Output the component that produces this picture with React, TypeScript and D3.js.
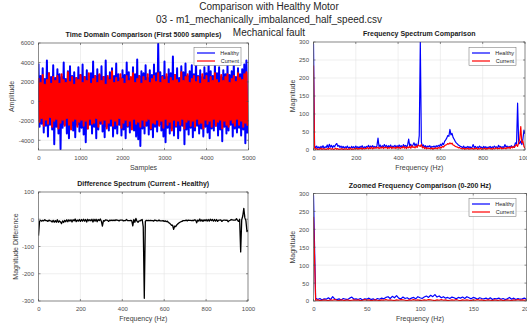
import React, { useEffect, useRef } from 'react';
import * as d3 from 'd3';

const FONT = '"Liberation Sans", Arial, Helvetica, sans-serif';

// time domain: one max / min pair per 50 samples (envelope)
const sampleStep = 50;
const healthyHigh = [
  3900, 2600, 3400, 2300, 4200, 2900, 2500, 3700, 2400, 3300,
  2800, 2500, 4000, 2300, 3100, 3600, 2600, 3000, 2400, 3500,
  2700, 3800, 2500, 3200, 2300, 2900, 4100, 2600, 3300, 2700,
  3600, 2500, 4200, 2400, 3000, 3400, 2600, 3900, 2800, 2400,
  3200, 2700, 4000, 3000, 2400, 3500, 2800, 4300, 2600, 3100,
  2900, 3700, 2400, 3200, 2700, 3800, 2900, 5900, 3000, 2600,
  4100, 2500, 3300, 2900, 4600, 2700, 3400, 2400, 3600, 3000,
  3900, 2600, 3100, 3700, 2800, 4300, 2600, 3200, 2500, 3500,
  2900, 4200, 3100, 2600, 3800, 2900, 3500, 2500, 3200, 2800,
  3700, 2700, 3100, 4000, 2500, 3400, 2800, 3300, 3800, 4200,
];
const healthyLow = [
  -2600, -2300, -3200, -2500, -3600, -2400, -2900, -4400, -2600, -3300,
  -4900, -2700, -2400, -3300, -3800, -2500, -3000, -3700, -2400, -3100,
  -2700, -3400, -4200, -2800, -2400, -3300, -2600, -3800, -2900, -2300,
  -3100, -3700, -2600, -3000, -2500, -3600, -2800, -3300, -2400, -3500,
  -2900, -3800, -2600, -3200, -2500, -3000, -3600, -3900, -4600, -2800,
  -3300, -2500, -3400, -2900, -3700, -2600, -3100, -2400, -3000, -3600,
  -4200, -2700, -3300, -2800, -3500, -2600, -3800, -3000, -2500, -4400,
  -2900, -3400, -2700, -3700, -3000, -2500, -3300, -2800, -3600, -2600,
  -3200, -3800, -2800, -3000, -2500, -3500, -2900, -4100, -2600, -3300,
  -3000, -2400, -3600, -2800, -3200, -2700, -3500, -2900, -4300, -3300,
];
const currentHigh = [
  2400, 1900, 2700, 1700, 2200, 2900, 1800, 2500, 2100, 2600,
  1800, 2800, 2200, 1900, 3000, 2000, 2500, 1700, 2400, 2200,
  2700, 1900, 2500, 2100, 2900, 1800, 2300, 2600, 1900, 2800,
  2100, 2500, 1700, 2600, 2200, 3100, 1900, 2400, 2000, 2800,
  2300, 1800, 2600, 2100, 2500, 2900, 1900, 2300, 2600, 1800,
  2500, 2100, 2800, 1900, 2300, 2600, 2000, 2900, 1900, 2500,
  2200, 2800, 1800, 2400, 2100, 2700, 2200, 1900, 3000, 2100,
  2500, 2800, 1900, 2300, 2600, 2000, 2500, 1800, 2800, 2200,
  2600, 1900, 2500, 2100, 2900, 2200, 1900, 2700, 2100, 2500,
  2800, 1900, 2300, 2600, 2000, 2900, 2400, 2200, 2800, 3000,
];
const currentLow = [
  -2100, -1700, -2500, -1900, -2300, -1600, -2600, -2000, -1800, -2800,
  -2200, -1900, -2500, -1700, -2400, -2900, -2000, -1800, -2600, -2100,
  -1900, -2500, -2000, -2800, -1800, -2300, -2200, -1700, -2600, -2000,
  -2300, -1900, -2800, -2200, -1800, -2500, -2000, -2400, -1700, -2700,
  -2200, -1900, -2500, -2000, -2900, -1800, -2300, -2100, -2600, -1900,
  -2500, -2000, -1800, -2800, -2200, -2300, -1900, -2500, -2000, -2700,
  -1800, -2400, -2100, -3000, -1900, -2500, -2000, -2400, -1800, -2800,
  -2100, -1900, -2500, -2000, -2600, -1800, -2300, -2200, -2800, -1900,
  -2300, -2000, -2600, -1800, -2500, -2100, -1900, -2800, -2000, -2400,
  -2600, -1900, -2200, -2500, -1800, -2400, -2000, -2600, -2200, -2500,
];

// full spectrum, one value every 5 Hz from 0 to 1000 Hz
const freqStep = 5;
const healthySpec = [
  295, 12, 6, 11, 5, 9, 4, 10, 6, 12,
  5, 9, 7, 14, 6, 16, 8, 13, 6, 12,
  9, 15, 18, 10, 13, 7, 11, 6, 10, 5,
  9, 6, 11, 5, 8, 4, 10, 6, 9, 5,
  11, 6, 9, 4, 10, 7, 12, 5, 9, 6,
  10, 7, 13, 6, 11, 8, 12, 7, 10, 6,
  12, 33, 9, 14, 7, 12, 8, 15, 9, 13,
  7, 12, 8, 14, 6, 11, 9, 13, 7, 12,
  8, 14, 9, 12, 7, 15, 10, 13, 8, 14,
  30, 11, 16, 9, 14, 20, 12, 17, 10, 15,
  40, 300, 22, 10, 14, 8, 12, 7, 11, 9,
  12, 6, 10, 8, 11, 7, 12, 9, 13, 10,
  16, 12, 19, 15, 24, 28, 33, 40, 38, 57,
  42, 46, 35, 30, 24, 20, 17, 14, 12, 10,
  9, 6, 11, 5, 8, 7, 10, 6, 9, 5,
  8, 15, 7, 10, 5, 9, 6, 11, 7, 8,
  5, 10, 6, 9, 4, 8, 7, 10, 5, 9,
  6, 11, 7, 9, 5, 13, 8, 10, 6, 9,
  7, 15, 8, 11, 6, 10, 7, 12, 9, 8,
  11, 20, 15, 130, 22, 18, 25, 15, 30, 55,
  45,
];
const currentSpec = [
  235, 5, 2, 4, 1, 3, 2, 5, 1, 4,
  2, 3, 1, 4, 2, 5, 3, 2, 4, 1,
  3, 5, 2, 4, 1, 3, 2, 4, 1, 3,
  2, 4, 1, 3, 2, 5, 1, 3, 2, 4,
  3, 5, 2, 4, 3, 6, 2, 5, 3, 4,
  4, 7, 3, 6, 4, 8, 3, 6, 5, 7,
  5, 8, 4, 7, 5, 9, 4, 7, 6, 8,
  4, 7, 5, 9, 4, 8, 5, 7, 4, 9,
  5, 8, 4, 7, 6, 10, 5, 8, 4, 9,
  6, 10, 5, 12, 7, 9, 6, 11, 7, 14,
  12, 10, 15, 6, 9, 4, 7, 3, 6, 4,
  5, 3, 6, 2, 5, 4, 6, 3, 7, 5,
  8, 6, 10, 8, 12, 14, 15, 18, 16, 20,
  17, 19, 14, 13, 10, 9, 8, 6, 7, 5,
  4, 3, 5, 2, 4, 3, 5, 2, 4, 3,
  5, 2, 4, 3, 6, 2, 4, 3, 5, 2,
  4, 3, 5, 2, 4, 3, 6, 3, 4, 2,
  5, 3, 4, 6, 3, 5, 4, 7, 3, 5,
  4, 6, 3, 7, 5, 8, 4, 9, 6, 10,
  7, 12, 15, 10, 20, 30, 65, 20, 25, 10,
  5,
];

// zoomed spectrum, one value every 2 Hz from 0 to 200 Hz
const zoomStep = 2;
const healthyZoom = [
  295, 8, 4, 7, 3, 6, 5, 9, 4, 12,
  5, 4, 6, 3, 7, 5, 4, 8, 11, 5,
  6, 4, 7, 3, 6, 5, 8, 4, 6, 3,
  7, 5, 8, 6, 10, 12, 7, 13, 9, 15,
  8, 6, 11, 7, 9, 5, 8, 10, 6, 12,
  9, 7, 11, 14, 10, 16, 12, 18, 11, 14,
  9, 12, 8, 10, 7, 11, 9, 6, 10, 8,
  11, 7, 12, 9, 6, 10, 8, 5, 9, 7,
  6, 8, 5, 9, 4, 7, 6, 8, 5, 7,
  4, 6, 10, 5, 8, 4, 7, 5, 6, 8,
  5,
];
const currentZoom = [
  235, 2, 3, 1, 2, 3, 2, 1, 3, 2,
  4, 2, 1, 3, 2, 2, 3, 1, 2, 3,
  2, 3, 1, 2, 4, 2, 3, 1, 2, 3,
  2, 1, 3, 2, 4, 2, 3, 2, 1, 3,
  2, 4, 3, 2, 1, 3, 2, 4, 2, 3,
  1, 2, 3, 2, 4, 3, 2, 1, 3, 2,
  4, 2, 3, 1, 2, 3, 2, 4, 2, 1,
  3, 2, 3, 2, 1, 3, 2, 4, 2, 3,
  1, 2, 3, 2, 1, 3, 2, 2, 3, 1,
  2, 3, 2, 1, 3, 2, 4, 2, 3, 2,
  3,
];

const titleLines = [
  'Comparison with Healthy Motor',
  '03 - m1_mechanically_imbalanced_half_speed.csv',
  'Mechanical fault',
];
const timeTicks = [0, 1000, 2000, 3000, 4000, 5000];
const ampTicks = [-4000, -2000, 0, 2000, 4000, 6000];
const freqTicks = [0, 200, 400, 600, 800, 1000];
const magTicks = [0, 50, 100, 150, 200, 250, 300];
const diffTicks = [-300, -200, -100, 0, 100];
const zoomTicks = [0, 50, 100, 150, 200];
const legendNames = ['Healthy', 'Current'];

const BLUE = '#0000ff';
const RED = '#ff0000';

const envelope = (hi, lo) =>
  hi.flatMap((h, i) => [
    [i * sampleStep, h],
    [i * sampleStep + sampleStep / 2, lo[i]],
  ]);
const spectrum = (vals, step) => vals.map((v, i) => [i * step, v]);

function drawPanel(svg, p) {
  const x = d3.scaleLinear().domain(p.xDomain).range([p.left, p.right]);
  const y = d3.scaleLinear().domain(p.yDomain).range([p.bottom, p.top]);
  const g = svg.append('g');

  // grid under the data
  g.append('g')
    .selectAll('line')
    .data(p.xTicks)
    .join('line')
    .attr('x1', (d) => x(d))
    .attr('x2', (d) => x(d))
    .attr('y1', p.top)
    .attr('y2', p.bottom)
    .attr('stroke', '#e4e4e4')
    .attr('stroke-width', 0.6);
  g.append('g')
    .selectAll('line')
    .data(p.yTicks)
    .join('line')
    .attr('x1', p.left)
    .attr('x2', p.right)
    .attr('y1', (d) => y(d))
    .attr('y2', (d) => y(d))
    .attr('stroke', '#e4e4e4')
    .attr('stroke-width', 0.6);

  svg
    .append('clipPath')
    .attr('id', `clip-${p.id}`)
    .append('rect')
    .attr('x', p.left)
    .attr('y', p.top)
    .attr('width', p.right - p.left)
    .attr('height', p.bottom - p.top);

  const line = d3
    .line()
    .x((d) => x(d[0]))
    .y((d) => y(d[1]));

  g.append('g')
    .attr('clip-path', `url(#clip-${p.id})`)
    .selectAll('path')
    .data(p.series)
    .join('path')
    .attr('d', (s) => line(s.points))
    .attr('fill', 'none')
    .attr('stroke', (s) => s.color)
    .attr('stroke-width', (s) => s.width || 1.2)
    .attr('stroke-linejoin', 'round');

  // box + inner ticks on all sides
  g.append('rect')
    .attr('x', p.left)
    .attr('y', p.top)
    .attr('width', p.right - p.left)
    .attr('height', p.bottom - p.top)
    .attr('fill', 'none')
    .attr('stroke', '#4a4a4a')
    .attr('stroke-width', 0.6);
  const tk = g.append('g').attr('stroke', '#4a4a4a').attr('stroke-width', 0.6);
  p.xTicks.forEach((t) => {
    tk.append('line').attr('x1', x(t)).attr('x2', x(t)).attr('y1', p.bottom).attr('y2', p.bottom - 2);
    tk.append('line').attr('x1', x(t)).attr('x2', x(t)).attr('y1', p.top).attr('y2', p.top + 2);
  });
  p.yTicks.forEach((t) => {
    tk.append('line').attr('x1', p.left).attr('x2', p.left + 2).attr('y1', y(t)).attr('y2', y(t));
    tk.append('line').attr('x1', p.right).attr('x2', p.right - 2).attr('y1', y(t)).attr('y2', y(t));
  });

  // tick labels
  g.append('g')
    .attr('transform', `translate(0,${p.bottom})`)
    .call(d3.axisBottom(x).tickValues(p.xTicks).tickSize(0).tickPadding(6).tickFormat((d) => String(d)))
    .call((a) => a.select('.domain').remove())
    .attr('font-size', 6)
    .attr('font-family', FONT)
    .selectAll('text')
    .attr('fill', '#4d4d4d');
  g.append('g')
    .attr('transform', `translate(${p.left},0)`)
    .call(d3.axisLeft(y).tickValues(p.yTicks).tickSize(0).tickPadding(4.5).tickFormat((d) => String(d)))
    .call((a) => a.select('.domain').remove())
    .attr('font-size', 6)
    .attr('font-family', FONT)
    .selectAll('text')
    .attr('fill', '#4d4d4d');

  const cx = (p.left + p.right) / 2;
  const cy = (p.top + p.bottom) / 2;

  g.append('text')
    .attr('x', cx)
    .attr('y', p.top - 6)
    .attr('text-anchor', 'middle')
    .attr('font-family', FONT)
    .attr('font-weight', 'bold')
    .attr('font-size', 7)
    .attr('fill', '#1a1a1a')
    .text(p.title);

  g.append('text')
    .attr('x', cx)
    .attr('y', p.bottom + 19.5)
    .attr('text-anchor', 'middle')
    .attr('font-family', FONT)
    .attr('font-size', 7)
    .attr('fill', '#404040')
    .text(p.xLabel);

  g.append('text')
    .attr('transform', `translate(${p.yLabelX},${cy}) rotate(-90)`)
    .attr('text-anchor', 'middle')
    .attr('font-family', FONT)
    .attr('font-size', 7)
    .attr('fill', '#404040')
    .text(p.yLabel);

  if (p.legend) {
    const lg = g.append('g').attr('transform', `translate(${p.legend.x},${p.legend.y})`);
    const w = 47;
    lg.append('rect')
      .attr('width', w)
      .attr('height', 18)
      .attr('fill', '#fff')
      .attr('stroke', '#6a6a6a')
      .attr('stroke-width', 0.5);
    legendNames.forEach((name, i) => {
      const ly = 5.5 + i * 8;
      lg.append('line')
        .attr('x1', 3)
        .attr('x2', 21)
        .attr('y1', ly)
        .attr('y2', ly)
        .attr('stroke', i === 0 ? BLUE : RED)
        .attr('stroke-width', 1.2);
      lg.append('text')
        .attr('x', w - 2)
        .attr('y', ly + 2)
        .attr('text-anchor', 'end')
        .attr('font-family', FONT)
        .attr('font-size', 5.5)
        .attr('fill', '#262626')
        .text(name);
    });
  }
}

export default function App() {
  const ref = useRef(null);

  useEffect(() => {
    const svg = d3.select(ref.current);
    svg.selectAll('*').remove();

    const diffSpec = currentSpec.map((c, i) => c - healthySpec[i]);

    svg
      .append('g')
      .selectAll('text')
      .data(titleLines)
      .join('text')
      .attr('x', 269)
      .attr('y', (d, i) => 9.5 + i * 13)
      .attr('text-anchor', 'middle')
      .attr('font-family', FONT)
      .attr('font-size', 10)
      .attr('fill', '#262626')
      .text((d) => d);

    drawPanel(svg, {
      id: 'time',
      left: 38.5,
      right: 248.5,
      top: 43,
      bottom: 150,
      xDomain: [0, 5000],
      yDomain: [-5000, 6000],
      xTicks: timeTicks,
      yTicks: ampTicks,
      title: 'Time Domain Comparison (First 5000 samples)',
      xLabel: 'Samples',
      yLabel: 'Amplitude',
      yLabelX: 14,
      legend: { x: 194, y: 47.5 },
      series: [
        { points: envelope(healthyHigh, healthyLow), color: BLUE, width: 2 },
        { points: envelope(currentHigh, currentLow), color: RED, width: 2 },
      ],
    });

    drawPanel(svg, {
      id: 'spec',
      left: 313.5,
      right: 525,
      top: 42,
      bottom: 150,
      xDomain: [0, 1000],
      yDomain: [0, 300],
      xTicks: freqTicks,
      yTicks: magTicks,
      title: 'Frequency Spectrum Comparison',
      xLabel: 'Frequency (Hz)',
      yLabel: 'Magnitude',
      yLabelX: 295,
      legend: { x: 469, y: 47.5 },
      series: [
        { points: spectrum(healthySpec, freqStep), color: BLUE },
        { points: spectrum(currentSpec, freqStep), color: RED },
      ],
    });

    drawPanel(svg, {
      id: 'diff',
      left: 38.5,
      right: 248,
      top: 192,
      bottom: 301,
      xDomain: [0, 1000],
      yDomain: [-300, 100],
      xTicks: freqTicks,
      yTicks: diffTicks,
      title: 'Difference Spectrum (Current - Healthy)',
      xLabel: 'Frequency (Hz)',
      yLabel: 'Magnitude Difference',
      yLabelX: 17.5,
      series: [{ points: spectrum(diffSpec, freqStep), color: '#000', width: 1.3 }],
    });

    drawPanel(svg, {
      id: 'zoom',
      left: 313.5,
      right: 526.5,
      top: 193.5,
      bottom: 301,
      xDomain: [0, 200],
      yDomain: [0, 300],
      xTicks: zoomTicks,
      yTicks: magTicks,
      title: 'Zoomed Frequency Comparison (0-200 Hz)',
      xLabel: 'Frequency (Hz)',
      yLabel: 'Magnitude',
      yLabelX: 295,
      legend: { x: 469, y: 198.5 },
      series: [
        { points: spectrum(healthyZoom, zoomStep), color: BLUE },
        { points: spectrum(currentZoom, zoomStep), color: RED },
      ],
    });
  }, []);

  return (
    <svg
      ref={ref}
      width={527}
      height={329}
      style={{ position: 'absolute', left: 0, top: 0, background: '#fff' }}
    />
  );
}
